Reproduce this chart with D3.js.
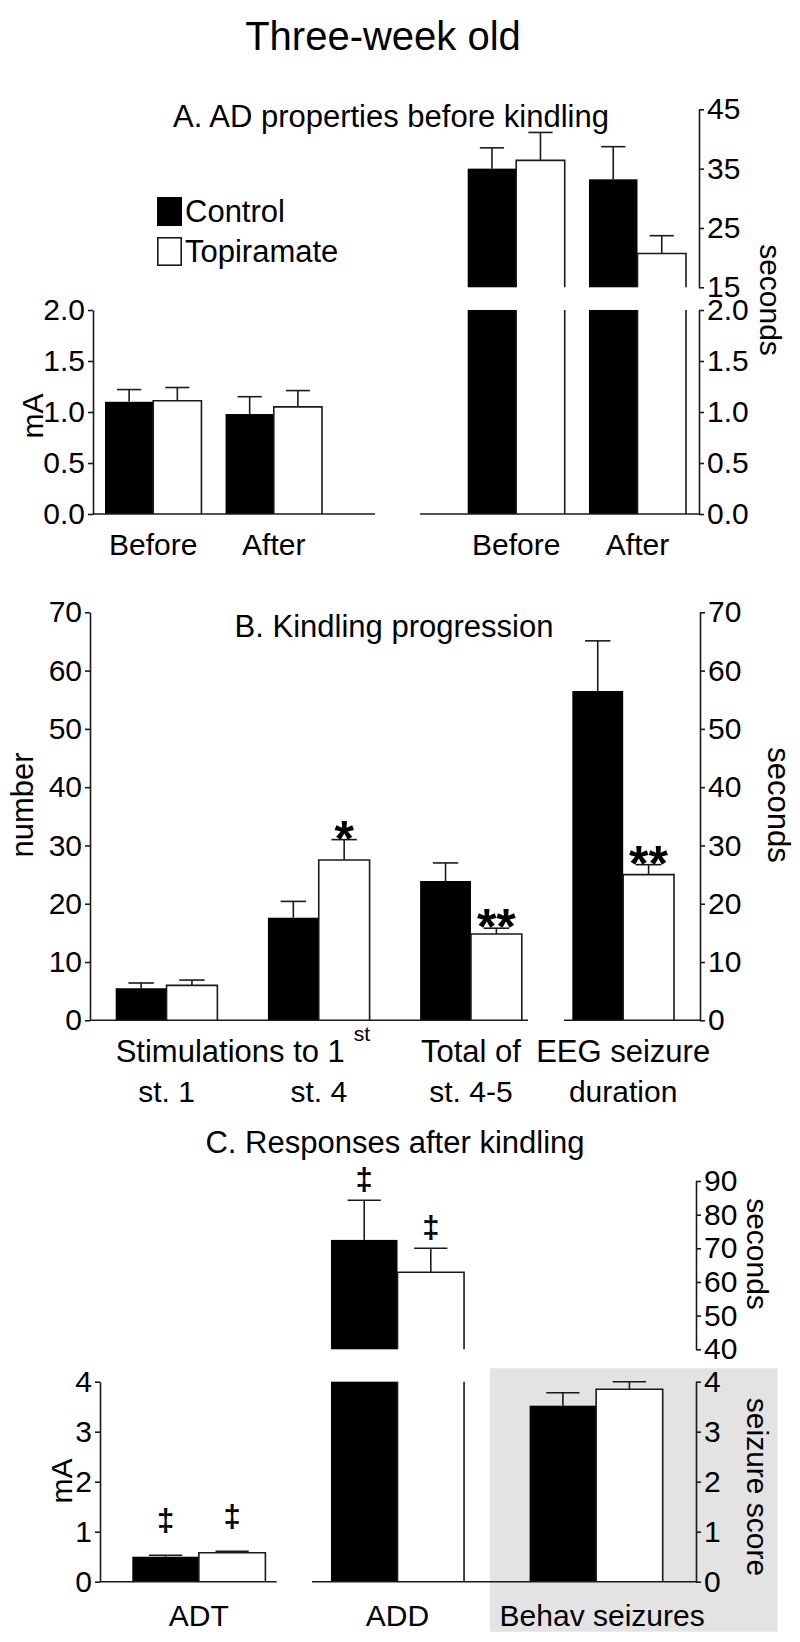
<!DOCTYPE html>
<html><head><meta charset="utf-8">
<script src="https://cdn.jsdelivr.net/npm/d3@7"></script>
<style>
body{margin:0;background:#fff}
text{font-family:Arial,"Liberation Sans",Helvetica,sans-serif;fill:#000}
</style>
</head><body>
<svg id="chart" width="800" height="1642"></svg>
<script>
// ---------------- DATA ----------------
const seriesNames = ["Control", "Topiramate"];

// Panel A
const groupsA = ["Before", "After"];
const adtA_control = [1.10, 0.98];
const adtA_controlSem = [0.12, 0.17];
const adtA_topi = [1.11, 1.05];
const adtA_topiSem = [0.13, 0.16];
const addA_control = [35.0, 33.2];
const addA_controlSem = [3.5, 5.5];
const addA_topi = [36.4, 20.7];
const addA_topiSem = [4.7, 3.0];
const ticksA_mA = [0, 0.5, 1.0, 1.5, 2.0];
const ticksA_sHigh = [15, 25, 35, 45];

// Panel B
const groupsB = ["st. 1", "st. 4", "st. 4-5", "duration"];
const kindB_control = [5.5, 17.6, 23.9, 56.5];
const kindB_controlSem = [0.9, 2.8, 3.1, 8.6];
const kindB_topi = [6.0, 27.5, 14.8, 25.0];
const kindB_topiSem = [0.9, 3.5, 1.0, 1.7];
const starsB_topi = ["", "*", "**", "**"];
const ticksB = [0, 10, 20, 30, 40, 50, 60, 70];

// Panel C
const groupsC = ["ADT", "ADD", "Behav seizures"];
const respC_control = [0.50, 72.5, 3.52];
const respC_controlSem = [0.03, 11.8, 0.26];
const respC_topi = [0.58, 62.9, 3.85];
const respC_topiSem = [0.03, 7.1, 0.15];
const marksC_control = ["‡", "‡", ""];
const marksC_topi = ["‡", "‡", ""];
const ticksC_low = [0, 1, 2, 3, 4];
const ticksC_high = [40, 50, 60, 70, 80, 90];

// ---------------- HELPERS ----------------
const svg = d3.select("#chart");
const INK = "#1a1a1a";
const SW = 1.6;

function styleAxis(g) {
  g.selectAll("path,line").attr("stroke", INK).attr("stroke-width", SW);
  g.selectAll("text").attr("font-size", 30).attr("fill", "#000").attr("font-family", 'Arial,"Liberation Sans",sans-serif');
  return g;
}
function axisL(scale, ticks, fmt, x) {
  const a = d3.axisLeft(scale).tickValues(ticks).tickSize(5).tickSizeOuter(0).tickPadding(3);
  if (fmt) a.tickFormat(fmt);
  styleAxis(svg.append("g").attr("transform", `translate(${x},0)`).call(a));
}
function axisR(scale, ticks, fmt, x) {
  const a = d3.axisRight(scale).tickValues(ticks).tickSize(5).tickSizeOuter(0).tickPadding(3);
  if (fmt) a.tickFormat(fmt);
  styleAxis(svg.append("g").attr("transform", `translate(${x},0)`).call(a));
}
function hline(x1, x2, y) {
  svg.append("line").attr("x1", x1).attr("x2", x2).attr("y1", y).attr("y2", y)
    .attr("stroke", INK).attr("stroke-width", SW);
}
// one segment of a bar on a scale (clipped at top of the scale's domain)
function barSeg(x, w, yScale, value, kind) {
  const [lo, hi] = yScale.domain();
  const clipped = value > hi;
  const base = yScale(lo), top = yScale(Math.min(value, hi));
  if (kind === 0) {
    svg.append("rect").attr("x", x).attr("y", top).attr("width", w).attr("height", base - top).attr("fill", "#000");
  } else {
    svg.append("rect").attr("x", x).attr("y", top).attr("width", w).attr("height", base - top).attr("fill", "#fff");
    const p = clipped
      ? `M${x},${base}V${top}M${x + w},${top}V${base}`
      : `M${x},${base}V${top}H${x + w}V${base}`;
    svg.append("path").attr("d", p).attr("fill", "none").attr("stroke", INK).attr("stroke-width", SW);
  }
}
function errBar(cx, w, yScale, v, sem) {
  const y0 = yScale(v), y1 = yScale(v + sem);
  svg.append("line").attr("x1", cx).attr("x2", cx).attr("y1", y0).attr("y2", y1).attr("stroke", INK).attr("stroke-width", SW);
  svg.append("line").attr("x1", cx - w / 4).attr("x2", cx + w / 4).attr("y1", y1).attr("y2", y1).attr("stroke", INK).attr("stroke-width", SW);
}
function label(txt, x, y, size, anchor, rot) {
  const t = svg.append("text").text(txt).attr("font-size", size).attr("text-anchor", anchor || "middle");
  if (rot) t.attr("transform", `translate(${x},${y}) rotate(${rot})`);
  else t.attr("x", x).attr("y", y);
  return t;
}
function drawGroupBars(xBand, groups, ctrl, ctrlSem, topi, topiSem, scales, errScaleFor) {
  const w = xBand.bandwidth() / 2;
  groups.forEach((g, i) => {
    const x0 = xBand(g);
    scales(i).forEach(s => { barSeg(x0, w, s, ctrl[i], 0); barSeg(x0 + w, w, s, topi[i], 1); });
    const es = errScaleFor(i);
    errBar(x0 + w / 2, w, es, ctrl[i], ctrlSem[i]);
    errBar(x0 + 1.5 * w, w, es, topi[i], topiSem[i]);
  });
}

// ---------------- TITLE ----------------
label("Three-week old", 383, 50, 40);

// ---------------- PANEL A ----------------
label("A. AD properties before kindling", 391, 127, 31);
const yA = d3.scaleLinear().domain([0, 2]).range([514, 310]);
const yAhigh = d3.scaleLinear().domain([15, 45]).range([287.3, 109.3]);
const xAL = d3.scaleBand().domain(groupsA).range([105, 322]).paddingInner(0.2);
const xAR = d3.scaleBand().domain(groupsA).range([467.7, 686]).paddingInner(0.2);

drawGroupBars(xAL, groupsA, adtA_control, adtA_controlSem, adtA_topi, adtA_topiSem, () => [yA], () => yA);
drawGroupBars(xAR, groupsA, addA_control, addA_controlSem, addA_topi, addA_topiSem, () => [yA, yAhigh], () => yAhigh);
hline(93, 375, yA(0));
hline(420, 699, yA(0));
axisL(yA, ticksA_mA, d3.format(".1f"), 93);
axisR(yA, ticksA_mA, d3.format(".1f"), 699);
axisR(yAhigh, ticksA_sHigh, d3.format("d"), 699);
groupsA.forEach(g => {
  label(g, xAL(g) + xAL.bandwidth() / 2, 555, 30);
  label(g, xAR(g) + xAR.bandwidth() / 2, 555, 30);
});
label("mA", 43, 416, 30, "middle", -90);
label("seconds", 760, 300, 30, "middle", 90);
// legend
svg.append("rect").attr("x", 157).attr("y", 197).attr("width", 25).attr("height", 29).attr("fill", "#000");
svg.append("rect").attr("x", 157.8).attr("y", 237.8).attr("width", 23.4).attr("height", 27.4).attr("fill", "#fff").attr("stroke", INK).attr("stroke-width", SW);
label(seriesNames[0], 185, 222, 31, "start");
label(seriesNames[1], 185, 262, 31, "start");

// ---------------- PANEL B ----------------
label("B. Kindling progression", 394, 637, 31);
const yB = d3.scaleLinear().domain([0, 70]).range([1020.3, 612.3]);
const xB = d3.scaleBand().domain(groupsB).range([115.7, 674]).paddingInner(0.332);
drawGroupBars(xB, groupsB, kindB_control, kindB_controlSem, kindB_topi, kindB_topiSem, () => [yB], () => yB);
hline(90, 528, yB(0));
hline(564, 700, yB(0));
axisL(yB, ticksB, d3.format("d"), 90);
axisR(yB, ticksB, d3.format("d"), 700);
groupsB.forEach((g, i) => {
  const cx = xB(g) + xB.bandwidth() * 0.75;
  if (starsB_topi[i]) label(starsB_topi[i], cx, yB(kindB_topi[i] + kindB_topiSem[i]) + 16, 50).attr("font-weight", "bold");
  label(g, xB(g) + xB.bandwidth() / 2, 1102, 30);
});
// first row of x labels
{
  const t = svg.append("text").attr("x", xB(groupsB[0])).attr("y", 1062).attr("font-size", 31).attr("text-anchor", "start");
  t.append("tspan").text("Stimulations to 1");
  t.append("tspan").text("st").attr("font-size", 21).attr("dx", 9).attr("dy", -21);
  label("Total of", xB(groupsB[2]) + xB.bandwidth() / 2, 1062, 31);
  label("EEG seizure", xB(groupsB[3]) + xB.bandwidth() / 2, 1062, 31);
}
label("number", 33, 805, 31, "middle", -90);
label("seconds", 768, 805, 31, "middle", 90);

// ---------------- PANEL C ----------------
label("C. Responses after kindling", 395, 1153, 31);
const yC = d3.scaleLinear().domain([0, 4]).range([1581.7, 1381.7]);
const yChigh = d3.scaleLinear().domain([40, 90]).range([1349.3, 1181]);
const xC = d3.scaleBand().domain(groupsC).range([132.3, 662.7]).paddingInner(0.33);
// gray background for behavioural seizures
svg.append("rect").attr("x", 490).attr("y", 1368.3).attr("width", 287.7).attr("height", 263.4).attr("fill", "#e3e3e3");
drawGroupBars(xC, groupsC, respC_control, respC_controlSem, respC_topi, respC_topiSem,
  i => i === 1 ? [yC, yChigh] : [yC], i => i === 1 ? yChigh : yC);
hline(100, 276.7, yC(0));
hline(312, 696, yC(0));
axisL(yC, ticksC_low, d3.format("d"), 100);
axisR(yC, ticksC_low, d3.format("d"), 696);
axisR(yChigh, ticksC_high, d3.format("d"), 696);
groupsC.forEach((g, i) => {
  const w = xC.bandwidth() / 2;
  const es = i === 1 ? yChigh : yC;
  const gap = i === 1 ? 10 : 24;
  if (marksC_control[i]) label(marksC_control[i], xC(g) + w / 2, es(respC_control[i] + respC_controlSem[i]) - gap, 31).attr("font-weight", "bold");
  if (marksC_topi[i]) label(marksC_topi[i], xC(g) + 1.5 * w, es(respC_topi[i] + respC_topiSem[i]) - gap, 31).attr("font-weight", "bold");
  label(g, xC(g) + xC.bandwidth() / 2 + (i === 2 ? 6 : 0), 1626, 30);
});
label("mA", 72, 1481, 30, "middle", -90);
label("seconds", 747, 1254, 30, "middle", 90);
label("seizure score", 747, 1487, 30, "middle", 90);
</script>
</body></html>
